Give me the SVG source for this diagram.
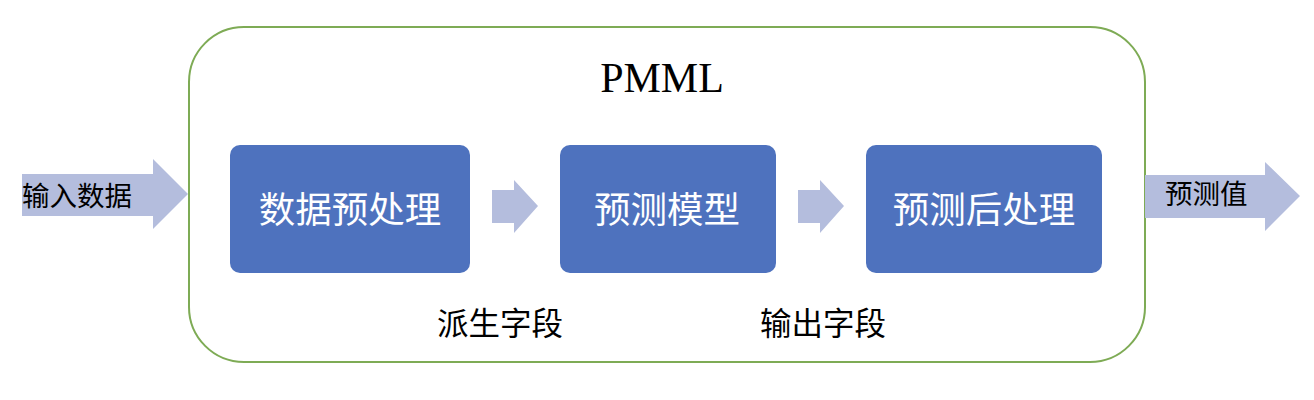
<svg xmlns="http://www.w3.org/2000/svg" width="1314" height="400" viewBox="0 0 1314 400">
<style>
.arrow{fill:#B4BDDD}
.box{fill:#4E72BE}
.bt{font-family:"Noto Sans CJK SC","Noto Sans",sans-serif;font-size:36.5px;fill:#fff;text-anchor:middle}
.lt{font-family:"Liberation Serif","Noto Sans CJK SC",serif;font-size:31.5px;fill:#000}
.at{font-family:"Noto Sans CJK SC",sans-serif;font-size:27.5px;fill:#000}
</style>
<rect width="1314" height="400" fill="#fff"/>
<g id="pmml">
<rect x="189" y="27" width="956" height="335" rx="55" ry="55" fill="#fff" stroke="#7EAB55" stroke-width="2"/>
<text x="662" y="92" font-family="Liberation Serif,serif" font-size="42" text-anchor="middle">PMML</text>
</g>
<g id="connectors">
<polygon class="arrow" points="22,174 153,174 153,159 188,194 153,229 153,216 22,216"/>
<polygon class="arrow" points="1145,175 1265,175 1265,162 1300,196 1265,231 1265,218 1145,218"/>
<polygon class="arrow" points="492,190 514,190 514,180 538,206 514,233 514,223 492,223"/>
<polygon class="arrow" points="798,190 820,190 820,180 844,206 820,233 820,223 798,223"/>
</g>
<g id="input"><text class="at" x="22" y="206">输入数据</text></g>
<g id="output"><text class="at" x="1165" y="204">预测值</text></g>
<g id="preprocess">
<rect class="box" x="230" y="145" width="240" height="128" rx="10"/>
<text class="bt" x="350" y="223">数据预处理</text>
</g>
<g id="model">
<rect class="box" x="560" y="145" width="216" height="128" rx="10"/>
<text class="bt" x="667" y="223">预测模型</text>
</g>
<g id="postprocess">
<rect class="box" x="866" y="145" width="236" height="128" rx="10"/>
<text class="bt" x="984" y="223">预测后处理</text>
</g>
<g id="derived"><text class="lt" x="437" y="335">派生字段</text></g>
<g id="outfields"><text class="lt" x="760" y="335">输出字段</text></g>
</svg>
